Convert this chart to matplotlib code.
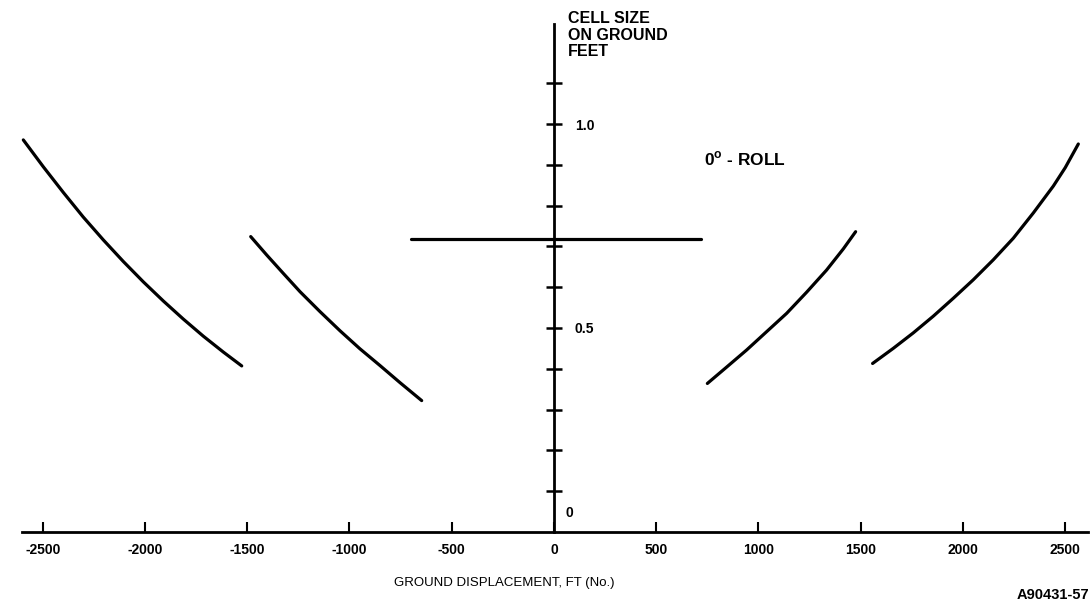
import matplotlib
matplotlib.use("Agg")
from matplotlib import pyplot as plt

plt.rcParams['font.family'] = ['Liberation Sans', 'DejaVu Sans']

# cell size curves (ground displacement ft, cell size ft)
left_outer_x = [-2595, -2497, -2399, -2302, -2204, -2106, -2008, -1910, -1813, -1715, -1617, -1527]
left_outer_y = [0.961, 0.895, 0.832, 0.772, 0.716, 0.663, 0.613, 0.566, 0.522, 0.480, 0.441, 0.407]
left_inner_x = [-1483, -1405, -1324, -1242, -1144, -1046, -949, -851, -753, -647]
left_inner_y = [0.724, 0.679, 0.634, 0.589, 0.540, 0.493, 0.449, 0.408, 0.366, 0.322]
flat_x = [-700, 720]
flat_y = [0.718, 0.718]
right_inner_x = [750, 844, 942, 1040, 1138, 1236, 1333, 1415, 1475]
right_inner_y = [0.364, 0.404, 0.446, 0.491, 0.536, 0.588, 0.642, 0.694, 0.736]
right_outer_x = [1558, 1659, 1757, 1855, 1953, 2050, 2148, 2246, 2344, 2442, 2500, 2564]
right_outer_y = [0.413, 0.450, 0.488, 0.529, 0.573, 0.618, 0.667, 0.720, 0.782, 0.848, 0.893, 0.951]

x_ticks = [-2500, -2000, -1500, -1000, -500, 0, 500, 1000, 1500, 2000, 2500]
y_ticks = [0.1, 0.2, 0.3, 0.4, 0.5, 0.6, 0.7, 0.8, 0.9, 1.0, 1.1]
y_labels = ['', '', '', '', '0.5', '', '', '', '', '1.0', '']

fig = plt.figure(figsize=(10.91, 6.07), dpi=100)
ax = fig.add_axes([0, 0, 1, 1])

for xs, ys in [(left_outer_x, left_outer_y), (left_inner_x, left_inner_y),
               (flat_x, flat_y), (right_inner_x, right_inner_y),
               (right_outer_x, right_outer_y)]:
    ax.plot(xs, ys, color='black', lw=2.3, solid_capstyle='round',
            solid_joinstyle='round')

ax.set_xlim(-2709, 2626)
ax.set_ylim(-0.184, 1.304)

# axes drawn as crossing spines
ax.spines['top'].set_visible(False)
ax.spines['left'].set_visible(False)
ax.spines['bottom'].set_position(('data', 0))
ax.spines['right'].set_position(('data', 0))
ax.spines['bottom'].set_bounds(-2600, 2610)
ax.spines['right'].set_bounds(0, 1.245)
ax.spines['bottom'].set_linewidth(2.0)
ax.spines['right'].set_linewidth(2.0)

ax.set_xticks(x_ticks)
ax.set_xticklabels([str(t) for t in x_ticks], fontsize=10, fontweight='bold')
ax.tick_params(axis='x', direction='in', length=7, width=1.5, pad=8)

ax.yaxis.tick_right()
ax.set_yticks(y_ticks)
ax.set_yticklabels(y_labels, fontsize=10, fontweight='bold')
ax.tick_params(axis='y', direction='inout', length=12, width=1.8, pad=9)

ax.text(73, 0.047, '0', fontsize=10, fontweight='bold', ha='center', va='center')
ax.text(68, 1.276, 'CELL SIZE\nON GROUND\nFEET', fontsize=11.5, fontweight='bold',
        ha='left', va='top', linespacing=1.1)
ax.text(735, 0.915, '0$^\\mathregular{o}$ - ROLL', fontsize=12.5, fontweight='bold',
        ha='left', va='center')

ax.text(0.462, 1 - 583 / 607, 'GROUND DISPLACEMENT, FT (No.)', fontsize=9.5,
        ha='center', va='center', transform=ax.transAxes)
fig.text(0.998, 1 - 595 / 607, 'A90431-57', fontsize=10.5, fontweight='bold',
         ha='right', va='center')

fig.savefig('out.png', dpi=100)
